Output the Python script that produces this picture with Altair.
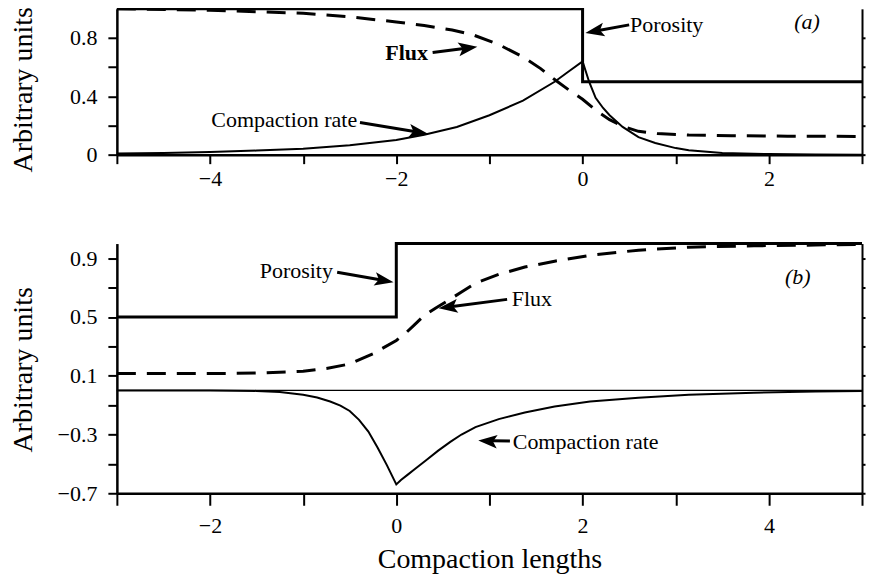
import json
import altair as alt
import pandas as pd

FONT = "Liberation Serif"

# ---------------- panel (a) data ----------------
A_X_DOMAIN = [-5, 3]
A_Y_DOMAIN = [0, 1]
A_X_TICKS = [-5, -4, -3, -2, -1, 0, 1, 2, 3]
A_X_LABELS = [-4, -2, 0, 2]
A_Y_TICKS = [0, 0.2, 0.4, 0.6, 0.8]
A_Y_LABELS = [0, 0.4, 0.8]

A_POR_X = [-5, 0, 0, 3]
A_POR_Y = [1.0, 1.0, 0.5, 0.5]

A_FLUX_X = [-5, -4, -3, -2.5, -2, -1.7, -1.4, -1.17, -0.9, -0.64, -0.45, -0.29,
            -0.15, 0, 0.15, 0.29, 0.45, 0.6, 0.8, 1.14, 1.6, 2.2, 3]
A_FLUX_Y = [1.0, 0.99, 0.97, 0.945, 0.91, 0.885, 0.855, 0.82, 0.755, 0.67, 0.59, 0.51,
            0.445, 0.38, 0.30, 0.24, 0.19, 0.16, 0.145, 0.135, 0.13, 0.127, 0.125]

A_COMP_X = [-5, -4.5, -4, -3.5, -3, -2.5, -2, -1.7, -1.35, -1, -0.64, -0.3, -0.15, 0,
            0.07, 0.14, 0.22, 0.29, 0.43, 0.6, 0.78, 1.0, 1.14, 1.5, 2.0, 2.5, 3]
A_COMP_Y = [0.008, 0.012, 0.018, 0.028, 0.04, 0.065, 0.1, 0.137, 0.19, 0.27, 0.37, 0.50,
            0.57, 0.64, 0.50, 0.39, 0.32, 0.27, 0.19, 0.12, 0.08, 0.045, 0.03, 0.012,
            0.004, 0.001, 0]

A_LABEL_TEXT = ["Flux", "Porosity", "Compaction rate", "(a)"]
A_LABEL_X = [-1.66, 0.51, -2.42, 2.41]
A_LABEL_Y = [0.70, 0.89, 0.24, 0.91]

A_ARROW_X0 = [-1.61, 0.50, -2.39]
A_ARROW_Y0 = [0.70, 0.89, 0.22]
A_ARROW_X1 = [-1.13, 0.03, -1.66]
A_ARROW_Y1 = [0.74, 0.835, 0.144]

# ---------------- panel (b) data ----------------
B_X_DOMAIN = [-3, 5]
B_Y_DOMAIN = [-0.7, 1.0]
B_X_TICKS = [-3, -2, -1, 0, 1, 2, 3, 4, 5]
B_X_LABELS = [-2, 0, 2, 4]
B_Y_TICKS = [-0.7, -0.5, -0.3, -0.1, 0.1, 0.3, 0.5, 0.7, 0.9]
B_Y_LABELS = [-0.7, -0.3, 0.1, 0.5, 0.9]

B_POR_X = [-3, 0, 0, 5]
B_POR_Y = [0.5, 0.5, 1.0, 1.0]

B_FLUX_X = [-3, -2, -1.5, -1, -0.75, -0.5, -0.25, 0, 0.1, 0.2, 0.3, 0.42, 0.55, 0.7,
            0.85, 1.1, 1.38, 1.7, 2.08, 2.6, 3.14, 3.84, 4.5, 5]
B_FLUX_Y = [0.115, 0.115, 0.118, 0.13, 0.15, 0.18, 0.25, 0.34, 0.39, 0.45, 0.51, 0.56,
            0.61, 0.67, 0.73, 0.79, 0.84, 0.88, 0.92, 0.955, 0.975, 0.985, 0.99, 0.995]

B_COMP_X = [-3, -2, -1.5, -1.25, -1, -0.85, -0.71, -0.6, -0.5, -0.4, -0.3, -0.2,
            -0.1, 0, 0.05, 0.12, 0.2, 0.32, 0.45, 0.58, 0.7, 0.85, 1.1, 1.38,
            1.7, 2.08, 2.6, 3.14, 3.84, 4.5, 5]
B_COMP_Y = [0, 0, -0.003, -0.01, -0.03, -0.048, -0.075, -0.103, -0.14, -0.2, -0.28,
            -0.39, -0.51, -0.64, -0.61, -0.575, -0.535, -0.475, -0.41, -0.35, -0.30,
            -0.25, -0.195, -0.15, -0.11, -0.075, -0.05, -0.03, -0.015, -0.007, -0.004]
B_ZERO = [0]

B_LABEL_TEXT = ["Porosity", "Flux", "Compaction rate", "(b)"]
B_LABEL_X = [-0.68, 1.24, 1.25, 4.31]
B_LABEL_Y = [0.81, 0.62, -0.35, 0.77]

B_ARROW_X0 = [-0.635, 1.19, 1.22]
B_ARROW_Y0 = [0.805, 0.62, -0.345]
B_ARROW_X1 = [-0.03, 0.455, 0.88]
B_ARROW_Y1 = [0.737, 0.56, -0.34]

# ---------------- styling of annotations ----------------
A_LABEL_STYLE = [("right", "bold", "normal"), ("left", "normal", "normal"),
                 ("right", "normal", "normal"), ("center", "normal", "italic")]
B_LABEL_STYLE = [("right", "normal", "normal"), ("left", "normal", "normal"),
                 ("left", "normal", "normal"), ("center", "normal", "italic")]
A_ARROW_ANGLE = [82, 260, 99]
B_ARROW_ANGLE = [100, 263, 274]
A_SHAFT_FRAC = [0.7, 0.7, 0.8]
B_SHAFT_FRAC = [0.76, 0.8, 0.56]
ARROW_PATH = "M0,0L0.36,1L0,0.78L-0.36,1Z"

PLOT_W = 746


def make_panel(width, height, xdom, ydom, xticks, xlabels, yticks, ylabels,
               por, flux, comp, zero, ltext, lx, ly, lstyle,
               ax0, ay0, ax1, ay1, aang, afrac, xaxis_kw, title_y):
    xs = alt.Scale(domain=xdom, nice=False, zero=False)
    ys = alt.Scale(domain=ydom, nice=False, zero=False)
    xlab = "indexof(%s, datum.value) >= 0 ? format(datum.value, 'd') : ''" % json.dumps(xlabels)
    ylab = "indexof(%s, datum.value) >= 0 ? format(datum.value, '.1~f') : ''" % json.dumps(ylabels)
    xaxis = alt.Axis(values=xticks, labelExpr=xlab, labelFlush=False, labelOverlap=False,
                     **xaxis_kw)
    left_axis = alt.Axis(values=yticks, labelExpr=ylab, tickSize=9, labelPadding=11,
                         labelOverlap=False, labelFlush=False, title="Arbitrary units",
                         titleX=-79, titleY=title_y)
    right_axis = alt.Axis(orient="right", values=yticks, labels=False, tickSize=3,
                          domainWidth=2, title=None)

    def X(f="x"):
        return alt.X(f, type="quantitative", scale=xs, axis=xaxis)

    def Y(f="y", axis=None):
        return alt.Y(f, type="quantitative", scale=ys, axis=axis)

    layers = []
    por_df = pd.DataFrame({"x": por[0], "y": por[1], "i": list(range(len(por[0])))})
    layers.append(alt.Chart(por_df).mark_line(color="black", strokeWidth=3).encode(
        x=X(), y=Y(axis=left_axis), order="i:Q"))
    flux_df = pd.DataFrame({"x": flux[0], "y": flux[1], "i": list(range(len(flux[0])))})
    layers.append(alt.Chart(flux_df).mark_line(color="black", strokeWidth=3,
                                                strokeDash=[19, 11]).encode(
        x=X(), y=Y(), order="i:Q"))
    comp_df = pd.DataFrame({"x": comp[0], "y": comp[1], "i": list(range(len(comp[0])))})
    layers.append(alt.Chart(comp_df).mark_line(color="black", strokeWidth=2).encode(
        x=X(), y=Y(axis=right_axis), order="i:Q"))
    if zero is not None:
        layers.append(alt.Chart(pd.DataFrame({"y": zero})).mark_rule(
            color="black", strokeWidth=1.3).encode(y=Y()))

    x0s = [a + f * (b - a) for a, b, f in zip(ax0, ax1, afrac)]
    y0s = [a + f * (b - a) for a, b, f in zip(ay0, ay1, afrac)]
    shaft_df = pd.DataFrame({"x": ax0, "y": ay0, "x2": x0s, "y2": y0s})
    layers.append(alt.Chart(shaft_df).mark_rule(color="black", strokeWidth=3).encode(
        x=X(), y=Y(), x2="x2", y2="y2"))
    head_df = pd.DataFrame({"x": ax1, "y": ay1, "ang": aang})
    layers.append(alt.Chart(head_df).mark_point(
        shape=ARROW_PATH, filled=True, size=1444, color="black", opacity=1,
        strokeWidth=0).encode(x=X(), y=Y(), angle=alt.Angle("ang:Q", scale=None)))

    for t, x, y, (al, fw, fs) in zip(ltext, lx, ly, lstyle):
        df = pd.DataFrame({"x": [x], "y": [y]})
        layers.append(alt.Chart(df).mark_text(
            text=t, align=al, baseline="middle", font=FONT, fontSize=22,
            fontWeight=fw, fontStyle=fs, color="black").encode(x=X(), y=Y()))

    return alt.layer(*layers).resolve_axis(y="independent").properties(
        width=width, height=height)


top = make_panel(
    PLOT_W, 146, A_X_DOMAIN, A_Y_DOMAIN, A_X_TICKS, A_X_LABELS, A_Y_TICKS, A_Y_LABELS,
    (A_POR_X, A_POR_Y), (A_FLUX_X, A_FLUX_Y), (A_COMP_X, A_COMP_Y), None,
    A_LABEL_TEXT, A_LABEL_X, A_LABEL_Y, A_LABEL_STYLE,
    A_ARROW_X0, A_ARROW_Y0, A_ARROW_X1, A_ARROW_Y1, A_ARROW_ANGLE, A_SHAFT_FRAC,
    dict(tickSize=9, labelPadding=4.5, title=None), 80.5)

bottom = make_panel(
    PLOT_W, 250, B_X_DOMAIN, B_Y_DOMAIN, B_X_TICKS, B_X_LABELS, B_Y_TICKS, B_Y_LABELS,
    (B_POR_X, B_POR_Y), (B_FLUX_X, B_FLUX_Y), (B_COMP_X, B_COMP_Y), B_ZERO,
    B_LABEL_TEXT, B_LABEL_X, B_LABEL_Y, B_LABEL_STYLE,
    B_ARROW_X0, B_ARROW_Y0, B_ARROW_X1, B_ARROW_Y1, B_ARROW_ANGLE, B_SHAFT_FRAC,
    dict(tickSize=12, labelPadding=10, title="Compaction lengths", titleY=52), 126)

chart = alt.vconcat(top, bottom, spacing=48).properties(
    padding={"left": 1, "top": -5.5, "right": -1, "bottom": 0}
).configure_view(strokeWidth=0).configure_axis(
    domainColor="black", tickColor="black", labelColor="black", titleColor="black",
    labelFont=FONT, labelFontSize=22, titleFont=FONT, titleFontSize=28,
    titleFontWeight="normal", domainWidth=2.5, tickWidth=2, grid=False
)

chart.save("out.html", embed_options={"renderer": "svg", "actions": False})
